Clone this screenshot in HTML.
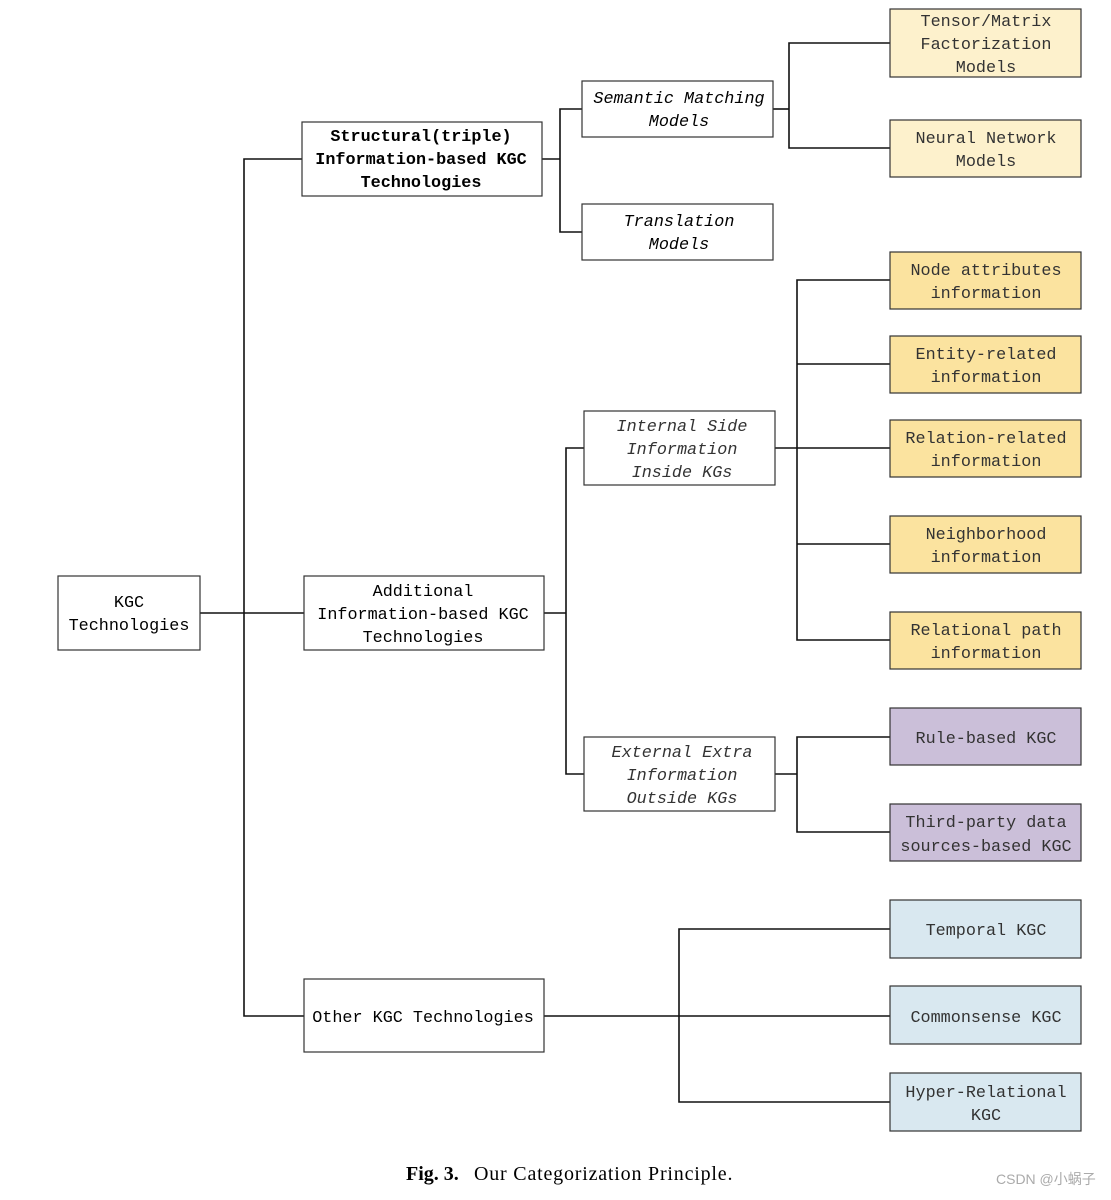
<!DOCTYPE html>
<html><head><meta charset="utf-8"><style>
html,body{margin:0;padding:0;background:#fff;}
svg text{font-family:"Liberation Mono","Noto Sans CJK SC",monospace;font-size:16.8px;}
</style></head><body>
<svg width="1111" height="1195" viewBox="0 0 1111 1195" xmlns="http://www.w3.org/2000/svg">
<g stroke="#111" stroke-width="1.6" fill="none">
<polyline points="200,613 244,613"/>
<polyline points="302,159 244,159 244,1016 304,1016"/>
<polyline points="244,613 304,613"/>
<polyline points="542,159 560,159"/>
<polyline points="582,109 560,109 560,232 582,232"/>
<polyline points="773,109 789,109"/>
<polyline points="890,43 789,43 789,148 890,148"/>
<polyline points="544,613 566,613"/>
<polyline points="584,448 566,448 566,774 584,774"/>
<polyline points="775,448 890,448"/>
<polyline points="890,280 797,280 797,640 890,640"/>
<polyline points="797,364 890,364"/>
<polyline points="797,544 890,544"/>
<polyline points="775,774 797,774"/>
<polyline points="890,737 797,737 797,832 890,832"/>
<polyline points="544,1016 890,1016"/>
<polyline points="890,929 679,929 679,1102 890,1102"/>
</g>
<g stroke="#333" stroke-width="1.2">
<rect x="58" y="576" width="142" height="74" fill="#fff"/>
<rect x="302" y="122" width="240" height="74" fill="#fff"/>
<rect x="304" y="576" width="240" height="74" fill="#fff"/>
<rect x="304" y="979" width="240" height="73" fill="#fff"/>
<rect x="582" y="81" width="191" height="56" fill="#fff"/>
<rect x="582" y="204" width="191" height="56" fill="#fff"/>
<rect x="584" y="411" width="191" height="74" fill="#fff"/>
<rect x="584" y="737" width="191" height="74" fill="#fff"/>
<rect x="890" y="9" width="191" height="68" fill="#fdf1cc"/>
<rect x="890" y="120" width="191" height="57" fill="#fdf1cc"/>
<rect x="890" y="252" width="191" height="57" fill="#fbe39f"/>
<rect x="890" y="336" width="191" height="57" fill="#fbe39f"/>
<rect x="890" y="420" width="191" height="57" fill="#fbe39f"/>
<rect x="890" y="516" width="191" height="57" fill="#fbe39f"/>
<rect x="890" y="612" width="191" height="57" fill="#fbe39f"/>
<rect x="890" y="708" width="191" height="57" fill="#cbbfd9"/>
<rect x="890" y="804" width="191" height="57" fill="#cbbfd9"/>
<rect x="890" y="900" width="191" height="58" fill="#d9e8f0"/>
<rect x="890" y="986" width="191" height="58" fill="#d9e8f0"/>
<rect x="890" y="1073" width="191" height="58" fill="#d9e8f0"/>
</g>
<g text-anchor="middle" fill="#000">
<text x="129" y="607">KGC</text><text x="129" y="630">Technologies</text>
<g font-weight="bold"><text x="421" y="141">Structural(triple)</text><text x="421" y="164">Information-based KGC</text><text x="421" y="187">Technologies</text></g>
<text x="423" y="596">Additional</text><text x="423" y="619">Information-based KGC</text><text x="423" y="642">Technologies</text>
<text x="423" y="1022">Other KGC Technologies</text>
<g font-style="italic">
<text x="679" y="103">Semantic Matching</text><text x="679" y="126">Models</text>
<text x="679" y="226">Translation</text><text x="679" y="249">Models</text>
<g fill="#333"><text x="682" y="431">Internal Side</text><text x="682" y="454">Information</text><text x="682" y="477">Inside KGs</text>
<text x="682" y="757">External Extra</text><text x="682" y="780">Information</text><text x="682" y="803">Outside KGs</text></g>
</g>
<g fill="#333">
<text x="986" y="26">Tensor/Matrix</text><text x="986" y="49">Factorization</text><text x="986" y="72">Models</text>
<text x="986" y="143">Neural Network</text><text x="986" y="166">Models</text>
<text x="986" y="275">Node attributes</text><text x="986" y="298">information</text>
<text x="986" y="359">Entity-related</text><text x="986" y="382">information</text>
<text x="986" y="443">Relation-related</text><text x="986" y="466">information</text>
<text x="986" y="539">Neighborhood</text><text x="986" y="562">information</text>
<text x="986" y="635">Relational path</text><text x="986" y="658">information</text>
<text x="986" y="743">Rule-based KGC</text>
<text x="986" y="827">Third-party data</text><text x="986" y="851">sources-based KGC</text>
<text x="986" y="935">Temporal KGC</text>
<text x="986" y="1022">Commonsense KGC</text>
<text x="986" y="1097">Hyper-Relational</text><text x="986" y="1120">KGC</text>
</g>
</g>
<text x="406" y="1180" style="font-family:'Liberation Serif',serif;font-size:20px;font-weight:bold">Fig. 3.</text>
<text x="474" y="1180" style="font-family:'Liberation Serif',serif;font-size:20px;letter-spacing:0.8px">Our Categorization Principle.</text>
<text x="996" y="1184" fill="#aaa" style="font-family:'Liberation Sans','Noto Sans CJK SC',sans-serif;font-size:14px">CSDN @小蜗子</text>
</svg>
</body></html>
